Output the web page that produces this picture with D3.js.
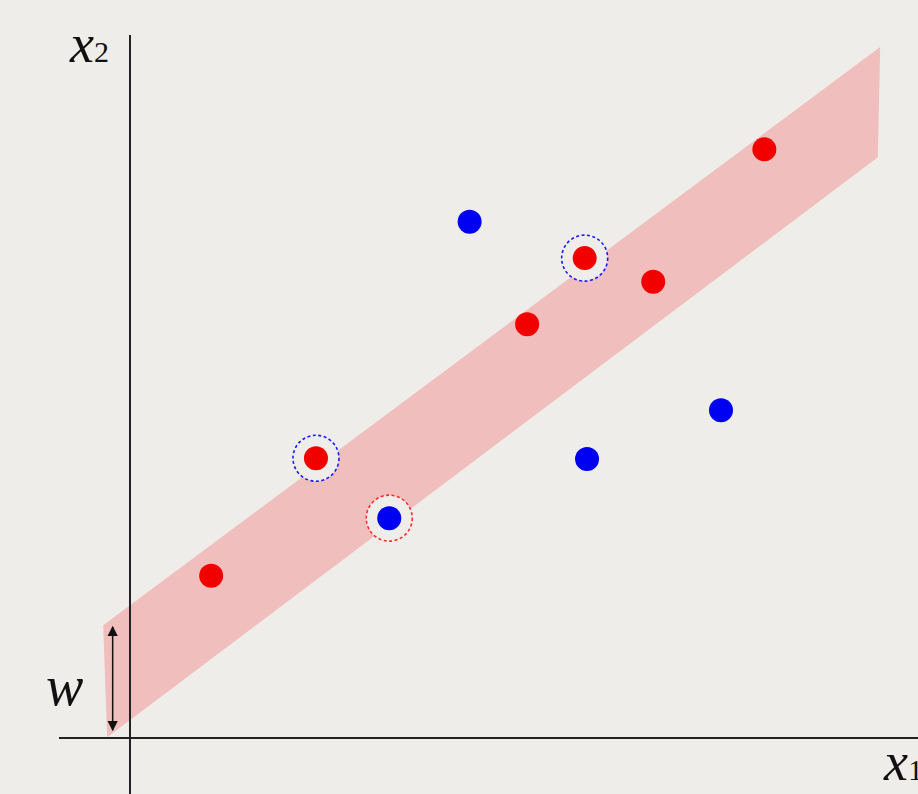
<!DOCTYPE html>
<html>
<head>
<meta charset="utf-8">
<script src="https://cdn.jsdelivr.net/npm/d3@7"></script>
<style>
  html, body { margin: 0; padding: 0; background: #eeede9; }
  svg { display: block; }
</style>
</head>
<body>
<div id="chart"></div>
<script>
// data (units of the x1/x2 plane, origin at the axes crossing)
var redPoints = [[1.03, 2.06], [2.36, 3.55], [5.04, 5.25], [5.77, 6.09], [6.64, 5.79], [8.05, 7.47]]
var bluePoints = [[4.31, 6.55], [3.29, 2.79], [5.80, 3.54], [7.50, 4.16]]
// circled points: [x, y, ring colour]
var circled = [[2.36, 3.55, "blue"], [3.29, 2.79, "red"], [5.77, 6.09, "blue"]]
// margin band polygon
var band = [[-0.34, 1.43], [9.52, 8.77], [9.49, 7.37], [-0.29, 0.01]]
// width arrow
var arrowX = -0.22, arrowY = [1.41, 0.10]

var width = 918, height = 794

var svg = d3.select("#chart")
  .append("svg")
  .attr("width", width)
  .attr("height", height)

svg.append("rect").attr("width", width).attr("height", height).attr("fill", "#eeede9")

var x = d3.scaleLinear().domain([0, 10]).range([130, 918])
var y = d3.scaleLinear().domain([0, 10]).range([738, -50])

var defs = svg.append("defs")
defs.append("marker")
  .attr("id", "arrow")
  .attr("viewBox", "0 0 10 10")
  .attr("refX", 9).attr("refY", 5)
  .attr("markerWidth", 7).attr("markerHeight", 8)
  .attr("orient", "auto-start-reverse")
  .append("path")
  .attr("d", "M0,0L10,5L0,10z")
  .attr("fill", "#111")

// band
svg.append("path")
  .attr("d", d3.line().x(d => x(d[0])).y(d => y(d[1]))(band) + "Z")
  .attr("fill", "#f0bebc")

// axes
svg.append("line")
  .attr("x1", x(0)).attr("x2", x(0))
  .attr("y1", 35).attr("y2", height)
  .attr("stroke", "#222").attr("stroke-width", 2)
svg.append("line")
  .attr("x1", 59).attr("x2", width)
  .attr("y1", y(0)).attr("y2", y(0))
  .attr("stroke", "#222").attr("stroke-width", 2)

// arrow for w
svg.append("line")
  .attr("x1", x(arrowX)).attr("x2", x(arrowX))
  .attr("y1", y(arrowY[0])).attr("y2", y(arrowY[1]))
  .attr("stroke", "#111").attr("stroke-width", 1.5)
  .attr("marker-start", "url(#arrow)")
  .attr("marker-end", "url(#arrow)")

// rings
svg.selectAll(".ring")
  .data(circled)
  .enter()
  .append("circle")
  .attr("class", "ring")
  .attr("cx", d => x(d[0]))
  .attr("cy", d => y(d[1]))
  .attr("r", 23)
  .attr("fill", "#eeede9")
  .attr("stroke", d => d[2] == "blue" ? "#1a1aff" : "#ff2a2a")
  .attr("stroke-width", 1.6)
  .attr("stroke-dasharray", "3,2.5")

// points
svg.selectAll(".red")
  .data(redPoints)
  .enter()
  .append("circle")
  .attr("cx", d => x(d[0]))
  .attr("cy", d => y(d[1]))
  .attr("r", 12)
  .attr("fill", "#f20000")
svg.selectAll(".blue")
  .data(bluePoints)
  .enter()
  .append("circle")
  .attr("cx", d => x(d[0]))
  .attr("cy", d => y(d[1]))
  .attr("r", 12)
  .attr("fill", "#0000f2")

// labels
var font = "'Liberation Serif', serif"
var x2 = svg.append("text").attr("x", 70).attr("y", 62)
  .attr("font-family", font).attr("font-style", "italic").attr("font-size", 54).attr("fill", "#111")
x2.append("tspan").text("x")
x2.append("tspan").attr("font-size", 30).attr("font-style", "normal").text("2")

var x1 = svg.append("text").attr("x", 884).attr("y", 780)
  .attr("font-family", font).attr("font-style", "italic").attr("font-size", 54).attr("fill", "#111")
x1.append("tspan").text("x")
x1.append("tspan").attr("font-size", 30).attr("font-style", "normal").text("1")

svg.append("text").attr("x", 46).attr("y", 705)
  .attr("font-family", font).attr("font-style", "italic").attr("font-size", 56).attr("fill", "#111")
  .text("w")
</script>
</body>
</html>
